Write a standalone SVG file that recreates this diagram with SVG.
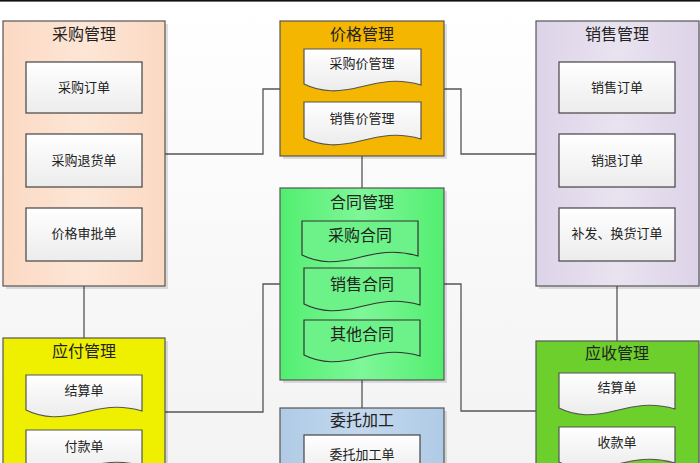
<svg xmlns="http://www.w3.org/2000/svg" width="700" height="463" viewBox="0 0 700 463">
<defs>
<linearGradient id="bg" x1="0" y1="0" x2="0" y2="1"><stop offset="0" stop-color="#ffffff"/><stop offset="1" stop-color="#f3f3f3"/></linearGradient>
<linearGradient id="inner" x1="0" y1="0" x2="0" y2="1"><stop offset="0" stop-color="#ffffff"/><stop offset="1" stop-color="#ececec"/></linearGradient>
<linearGradient id="gPeach" x1="0" y1="0" x2="1" y2="0"><stop offset="0" stop-color="#fbd9c3"/><stop offset="0.5" stop-color="#fde6d6"/><stop offset="1" stop-color="#fbd9c3"/></linearGradient>
<linearGradient id="gLav" x1="0" y1="0" x2="1" y2="0"><stop offset="0" stop-color="#ddd3e8"/><stop offset="0.5" stop-color="#e9e3f0"/><stop offset="1" stop-color="#ddd3e8"/></linearGradient>
<linearGradient id="gGreen" x1="0" y1="0" x2="1" y2="0"><stop offset="0" stop-color="#52ee70"/><stop offset="0.5" stop-color="#7ef798"/><stop offset="1" stop-color="#52ee70"/></linearGradient>
<linearGradient id="gBlue" x1="0" y1="0" x2="1" y2="0"><stop offset="0" stop-color="#b0cbe6"/><stop offset="0.5" stop-color="#c3d8ee"/><stop offset="1" stop-color="#b0cbe6"/></linearGradient>
<style>
.out{stroke:#555;stroke-width:1.2}
.in{fill:url(#inner);stroke:#444;stroke-width:1.2}
.doc{fill:url(#inner);stroke:#555;stroke-width:1.2}
.docg{fill:#6cf288;stroke:#333;stroke-width:1.2}
.sh{fill:#000;opacity:0.12}
.t{font-family:"Noto Sans CJK SC","Noto Sans CJK JP",sans-serif;font-size:16px;fill:#222;text-anchor:middle}
.s{font-family:"Noto Sans CJK SC","Noto Sans CJK JP",sans-serif;font-size:13px;fill:#222;text-anchor:middle}
.c{fill:none;stroke:#555;stroke-width:1.3}
</style>
</defs>
<rect x="0" y="0" width="700" height="463" fill="url(#bg)"/>
<rect x="0" y="0" width="700" height="1.6" fill="#111"/>

<g id="connectors">
<path class="c" d="M165,154 H263 V89 H280"/>
<path class="c" d="M444,89 H461 V154 H536"/>
<path class="c" d="M84,286 V338"/>
<path class="c" d="M617,286 V341"/>
<path class="c" d="M362,156 V188"/>
<path class="c" d="M280,284 H263 V412 H165"/>
<path class="c" d="M444,284 H461 V411 H536"/>
<path class="c" d="M362,380 V408"/>
</g>

<g id="caigou">
<rect class="sh" x="6" y="24" width="162" height="265"/>
<rect class="out" x="3" y="21" width="162" height="265" fill="url(#gPeach)"/>
<text class="t" x="84" y="40">采购管理</text>
<rect class="in" x="26" y="62" width="116" height="51"/>
<text class="s" x="84" y="92">采购订单</text>
<rect class="in" x="26" y="134" width="116" height="53"/>
<text class="s" x="84" y="165">采购退货单</text>
<rect class="in" x="26" y="208" width="116" height="53"/>
<text class="s" x="84" y="238">价格审批单</text>
</g>

<g id="jiage">
<rect class="sh" x="283" y="24" width="164" height="135"/>
<rect class="out" x="280" y="21" width="164" height="135" fill="#f4b600" stroke="#6b5200"/>
<text class="t" x="362" y="40">价格管理</text>
<path class="doc" d="M304,49 H421 V85 C397,78 380,82 360,87 C340,92 322,93 304,84 Z"/>
<text class="s" x="362" y="68">采购价管理</text>
<path class="doc" d="M304,102 H421 V139 C397,132 380,136 360,141 C340,146 322,147 304,138 Z"/>
<text class="s" x="362" y="123">销售价管理</text>
</g>

<g id="xiaoshou">
<rect class="sh" x="539" y="24" width="163" height="265"/>
<rect class="out" x="536" y="21" width="163" height="265" fill="url(#gLav)"/>
<text class="t" x="617" y="40">销售管理</text>
<rect class="in" x="559" y="62" width="116" height="51"/>
<text class="s" x="617" y="92">销售订单</text>
<rect class="in" x="559" y="134" width="116" height="53"/>
<text class="s" x="617" y="165">销退订单</text>
<rect class="in" x="559" y="208" width="116" height="53"/>
<text class="s" x="617" y="238">补发、换货订单</text>
</g>

<g id="hetong">
<rect class="sh" x="283" y="191" width="164" height="192"/>
<rect class="out" x="280" y="188" width="164" height="192" fill="url(#gGreen)"/>
<text class="t" x="362" y="208">合同管理</text>
<path class="docg" d="M302,221 H418 V256 C394,249 377,253 357,258 C337,263 320,264 302,255 Z"/>
<text class="t" x="360" y="241">采购合同</text>
<path class="docg" d="M304,268 H420 V305 C396,298 379,302 359,307 C339,312 322,313 304,304 Z"/>
<text class="t" x="362" y="290">销售合同</text>
<path class="docg" d="M304,320 H420 V356 C396,349 379,353 359,358 C339,363 322,364 304,355 Z"/>
<text class="t" x="362" y="340">其他合同</text>
</g>

<g id="weituo">
<rect class="sh" x="283" y="411" width="164" height="60"/>
<rect class="out" x="280" y="408" width="164" height="60" fill="url(#gBlue)"/>
<text class="t" x="362" y="426">委托加工</text>
<rect class="in" x="304" y="435" width="116" height="40"/>
<text class="s" x="362" y="459">委托加工单</text>
</g>

<g id="yingfu">
<rect class="sh" x="6" y="341" width="162" height="130"/>
<rect class="out" x="3" y="338" width="162" height="130" fill="#eef000"/>
<text class="t" x="84" y="357">应付管理</text>
<path class="doc" d="M26,375 H142 V411 C118,404 101,408 81,413 C61,418 44,419 26,410 Z"/>
<text class="s" x="84" y="395">结算单</text>
<path class="doc" d="M26,430 H142 V466 C118,459 101,463 81,468 C61,473 44,474 26,465 Z"/>
<text class="s" x="84" y="451">付款单</text>
</g>

<g id="yingshou">
<rect class="sh" x="539" y="344" width="163" height="130"/>
<rect class="out" x="536" y="341" width="163" height="130" fill="#6ccf2c"/>
<text class="t" x="617" y="359">应收管理</text>
<path class="doc" d="M559,373 H675 V409 C651,402 634,406 614,411 C594,416 577,417 559,408 Z"/>
<text class="s" x="617" y="392">结算单</text>
<path class="doc" d="M559,427 H675 V463 C651,456 634,460 614,465 C594,470 577,471 559,462 Z"/>
<text class="s" x="617" y="447">收款单</text>
</g>
</svg>
